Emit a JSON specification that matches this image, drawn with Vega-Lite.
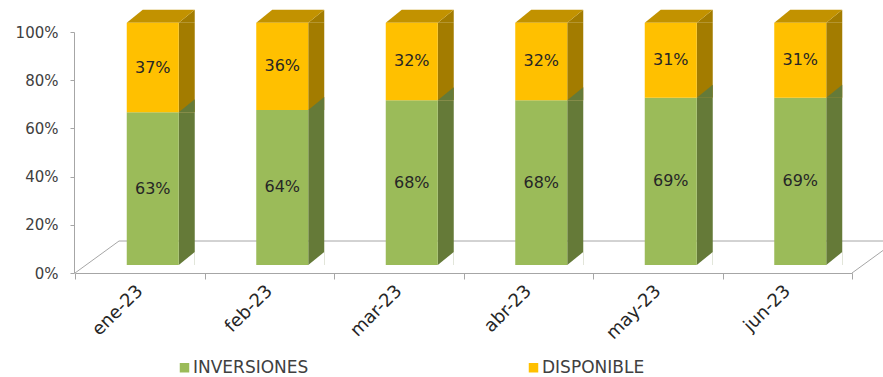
{
  "$schema": "https://vega.github.io/schema/vega-lite/v6.json",
  "width": 777,
  "height": 241,
  "autosize": {"type": "none"},
  "padding": {"left": 75, "top": 32, "right": 31, "bottom": 104},
  "background": "white",
  "config": {
    "view": {"stroke": null},
    "font": "DejaVu Sans",
    "text": {"font": "DejaVu Sans"}
  },
  "data": {
    "values": [
      {"mes": "ene-23", "serie": "INVERSIONES", "valor": 0.63},
      {"mes": "ene-23", "serie": "DISPONIBLE", "valor": 0.37},
      {"mes": "feb-23", "serie": "INVERSIONES", "valor": 0.64},
      {"mes": "feb-23", "serie": "DISPONIBLE", "valor": 0.36},
      {"mes": "mar-23", "serie": "INVERSIONES", "valor": 0.68},
      {"mes": "mar-23", "serie": "DISPONIBLE", "valor": 0.32},
      {"mes": "abr-23", "serie": "INVERSIONES", "valor": 0.68},
      {"mes": "abr-23", "serie": "DISPONIBLE", "valor": 0.32},
      {"mes": "may-23", "serie": "INVERSIONES", "valor": 0.69},
      {"mes": "may-23", "serie": "DISPONIBLE", "valor": 0.31},
      {"mes": "jun-23", "serie": "INVERSIONES", "valor": 0.69},
      {"mes": "jun-23", "serie": "DISPONIBLE", "valor": 0.31}
    ]
  },
  "layer": [
    {
      "data": {"values": [{}]},
      "layer": [
        {
          "mark": {"type": "rule", "color": "#A6A6A6", "strokeWidth": 1, "xOffset": 44, "x2Offset": 44, "yOffset": -32},
          "encoding": {
            "x": {"datum": "ene-23", "type": "nominal", "bandPosition": 0},
            "x2": {"datum": "jun-23", "bandPosition": 1},
            "y": {
              "datum": 0,
              "type": "quantitative",
              "scale": {"domain": [0, 1], "nice": false, "zero": false},
              "axis": {
                "values": [0, 0.2, 0.4, 0.6, 0.8, 1],
                "format": ".0%",
                "title": null,
                "grid": false,
                "domainColor": "#A6A6A6",
                "tickColor": "#A6A6A6",
                "tickSize": 4,
                "offset": 1,
                "labelPadding": 12,
                "labelFontSize": 15,
                "labelColor": "#404040",
                "labelFont": "DejaVu Sans"
              }
            }
          }
        },
        {
          "mark": {"type": "rule", "color": "#A6A6A6", "strokeWidth": 1, "x2Offset": 44, "y2Offset": -32},
          "encoding": {
            "x": {"datum": "ene-23", "type": "nominal", "bandPosition": 0},
            "x2": {"datum": "ene-23", "bandPosition": 0},
            "y": {"datum": 0, "type": "quantitative"},
            "y2": {"datum": 0}
          }
        },
        {
          "mark": {"type": "rule", "color": "#A6A6A6", "strokeWidth": 1, "x2Offset": 44, "y2Offset": -32},
          "encoding": {
            "x": {"datum": "jun-23", "type": "nominal", "bandPosition": 1},
            "x2": {"datum": "jun-23", "bandPosition": 1},
            "y": {"datum": 0, "type": "quantitative"},
            "y2": {"datum": 0}
          }
        }
      ]
    },
    {
      "transform": [
        {"stack": "valor", "groupby": ["mes"], "sort": [{"field": "serie", "order": "descending"}], "as": ["v0", "v1"]},
        {"calculate": "(datum.v0 + datum.v1) / 2", "as": "medio"}
      ],
      "encoding": {
        "x": {
          "field": "mes",
          "type": "nominal",
          "scale": {
            "type": "band",
            "domain": ["ene-23", "feb-23", "mar-23", "abr-23", "may-23", "jun-23"],
            "paddingInner": 0,
            "paddingOuter": 0
          },
          "axis": {
            "title": null,
            "labelAngle": -45,
            "labelAlign": "right",
            "labelBaseline": "middle",
            "labelFontSize": 18,
            "labelColor": "#262626",
            "labelFont": "DejaVu Sans",
            "tickBand": "extent",
            "tickSize": 6,
            "tickColor": "#A6A6A6",
            "domainColor": "#A6A6A6",
            "labelPadding": 9
          }
        }
      },
      "layer": [
        {
          "mark": {"type": "bar", "width": 16, "xOffset": 47},
          "encoding": {
            "y": {"field": "v0", "type": "quantitative", "scale": {"domain": [-0.03302, 0.96162], "nice": false, "zero": false}, "axis": null},
            "y2": {"field": "v1"},
            "fill": {"condition": {"test": "datum.serie === 'INVERSIONES'", "value": "#657A38"}, "value": "#A37C00"}
          }
        },
        {
          "mark": {"type": "point", "shape": "M39,0 L55,0 L55,-13 Z", "size": 4, "filled": true, "opacity": 1, "strokeWidth": 0},
          "encoding": {
            "y": {"field": "v1", "type": "quantitative"},
            "fill": {"condition": {"test": "datum.serie === 'INVERSIONES'", "value": "#657A38"}, "value": "#A37C00"}
          }
        },
        {
          "transform": [{"filter": "datum.serie === 'INVERSIONES'"}],
          "mark": {"type": "point", "shape": "M39,0 L55,0 L55,-13 Z", "size": 4, "filled": true, "opacity": 1, "strokeWidth": 0, "color": "white"},
          "encoding": {
            "y": {"field": "v0", "type": "quantitative"}
          }
        },
        {
          "transform": [{"filter": "datum.serie === 'DISPONIBLE'"}],
          "mark": {"type": "point", "shape": "M-13,0 L39,0 L55,-13 L3,-13 Z", "size": 4, "filled": true, "opacity": 1, "strokeWidth": 0, "color": "#C29200"},
          "encoding": {
            "y": {"field": "v1", "type": "quantitative"}
          }
        },
        {
          "mark": {"type": "bar", "width": 52, "xOffset": 13},
          "encoding": {
            "y": {"field": "v0", "type": "quantitative"},
            "y2": {"field": "v1"},
            "color": {
              "field": "serie",
              "type": "nominal",
              "scale": {"domain": ["INVERSIONES", "DISPONIBLE"], "range": ["#9BBB59", "#FFC000"]},
              "legend": {
                "title": null,
                "orient": "none",
                "legendX": 101,
                "legendY": 327,
                "direction": "horizontal",
                "symbolType": "square",
                "symbolSize": 90,
                "symbolStrokeWidth": 0,
                "labelFontSize": 17,
                "labelFont": "DejaVu Sans",
                "labelColor": "#404040",
                "labelOffset": 0,
                "columnPadding": 216
              }
            }
          }
        },
        {
          "mark": {"type": "text", "xOffset": 13, "fontSize": 16, "color": "#262626", "font": "DejaVu Sans"},
          "encoding": {
            "y": {"field": "medio", "type": "quantitative"},
            "text": {"field": "valor", "type": "quantitative", "format": ".0%"}
          }
        }
      ]
    }
  ],
  "resolve": {"scale": {"y": "independent"}}
}
